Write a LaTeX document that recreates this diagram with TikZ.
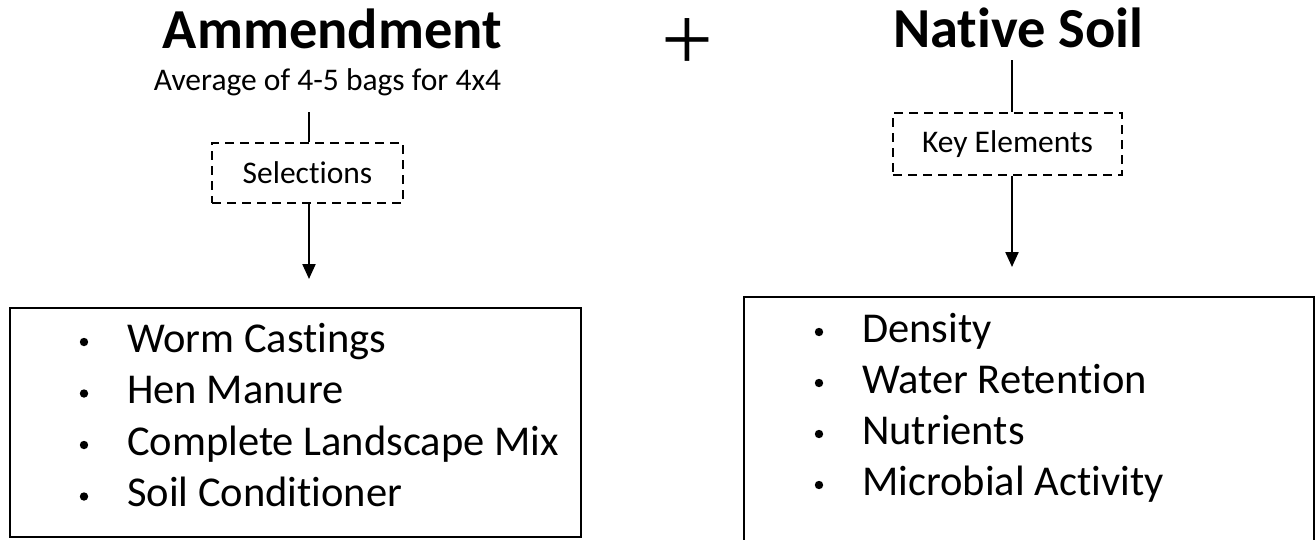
\documentclass[tikz,border=0pt]{standalone}
\usepackage{fontspec}
\setmainfont{Carlito}[Ligatures={NoCommon,NoContextual}]
\newfontfamily\plusfont{Liberation Serif}
\usetikzlibrary{arrows.meta}
\begin{document}
\begin{tikzpicture}[x=1pt,y=-1pt,
  title/.style={font=\fontsize{56.5}{60}\selectfont\bfseries, inner sep=0, anchor=base},
  sub/.style={font=\fontsize{31.5}{36}\selectfont, inner sep=0, anchor=base},
  dbox/.style={draw, dash pattern=on 9pt off 6pt, line width=1.8pt, font=\fontsize{31.5}{36}\selectfont, inner sep=0},
  lbox/.style={draw, line width=2pt, inner sep=0},
  item/.style={font=\fontsize{42.5}{50}\selectfont, inner sep=0, anchor=base west},
  conn/.style={line width=2.2pt},
  arr/.style={line width=2.2pt, -{Triangle[width=13pt,length=15pt]}},
  bul/.style={fill=black}]
\useasboundingbox (0,0) rectangle (1315,539);

% left column
\node[title] (amm) at (332.5,48) {Ammendment};
\node[sub] (avg) at (327.5,90) {Average of 4-5 bags for 4x4};
\coordinate (ltop) at (309,112);
\node[dbox, minimum width=191pt, minimum height=60pt] (sel) at (307.5,173) {Selections};
\coordinate (ltip) at (309,279);
\draw[conn] (ltop) -- (ltop |- sel.north);
\draw[arr] (ltop |- sel.south) -- (ltip);
\node[lbox, minimum width=571pt, minimum height=229pt] (lb) at (295.5,422.5) {};
\node[item] (l1) at (127,352) {Worm Castings};
\node[item] (l2) at (127,403.5) {Hen Manure};
\node[item] (l3) at (127,455) {Complete Landscape Mix};
\node[item] (l4) at (127,506.5) {Soil Conditioner};
\foreach \y in {352,403.5,455,506.5} \fill[bul] (84,\y-10) circle (4.2);

% plus
\node[font=\plusfont\fontsize{92}{100}\selectfont, inner sep=0] (plus) at (687.5,45) {+};

% right column
\node[title] (nat) at (1018.5,47) {Native Soil};
\coordinate (rtop) at (1012,60);
\node[dbox, minimum width=229pt, minimum height=62pt] (key) at (1007.5,144) {Key Elements};
\coordinate (rtip) at (1012,267);
\draw[conn] (rtop) -- (rtop |- key.north);
\draw[arr] (rtop |- key.south) -- (rtip);
\node[lbox, minimum width=570pt, minimum height=263pt] (rb) at (1029,428.5) {};
\node[item] (r1) at (862,342) {Density};
\node[item] (r2) at (862,393) {Water Retention};
\node[item] (r3) at (862,444) {Nutrients};
\node[item] (r4) at (862,495) {Microbial Activity};
\foreach \y in {342,393,444,495} \fill[bul] (819,\y-10) circle (4.2);
\end{tikzpicture}
\end{document}
